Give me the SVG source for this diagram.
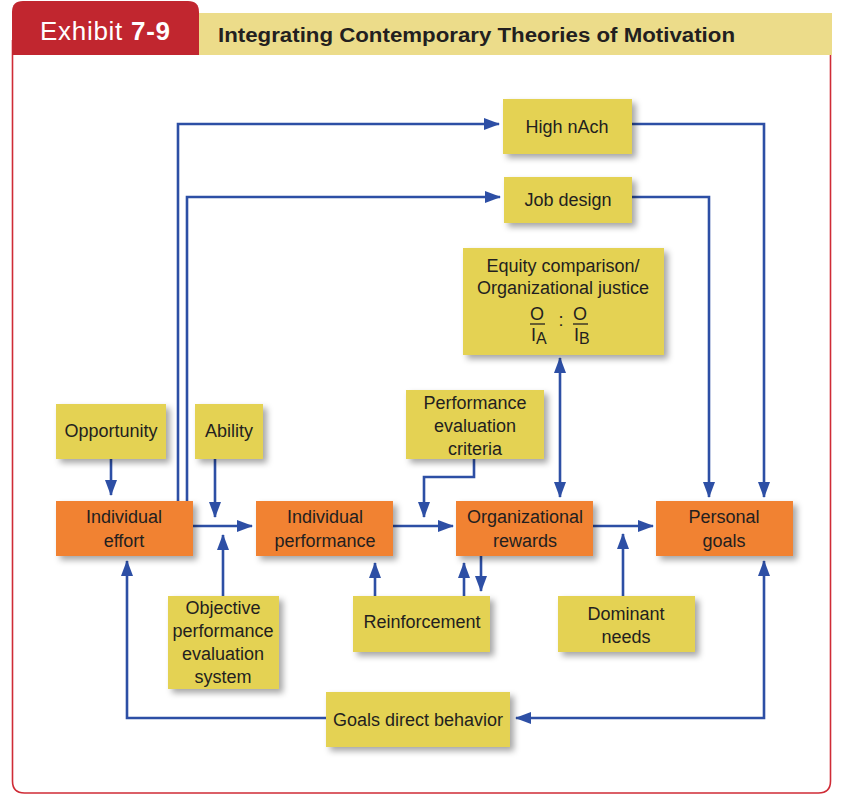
<svg xmlns="http://www.w3.org/2000/svg" width="852" height="801" viewBox="0 0 852 801">
<defs>
<style>
.frame{fill:#ffffff;stroke:#cf2b36;stroke-width:1.6}
.y{fill:#e4d252;filter:url(#sh)}
.o{fill:#f18233;filter:url(#sh)}
.t{font-family:"Liberation Sans",Arial,sans-serif;font-size:18px;fill:#231f20;text-anchor:middle}
.c{fill:none;stroke:#2d4fa5;stroke-width:2.6}
.a{marker-end:url(#ah)}
.b{marker-start:url(#ah);marker-end:url(#ah)}
</style>
<filter id="sh" x="-10%" y="-10%" width="130%" height="140%">
<feDropShadow dx="4" dy="4" stdDeviation="3" flood-color="#000" flood-opacity="0.35"/>
</filter>
<marker id="ah" markerUnits="userSpaceOnUse" markerWidth="16" markerHeight="12" viewBox="0 0 16 12" refX="15" refY="6" orient="auto-start-reverse">
<path d="M0,0 L16,6 L0,12 Z" fill="#2d4fa5"/>
</marker>
</defs>
<rect width="852" height="801" fill="#ffffff"/>
<g id="frame">
<path class="frame" d="M12.5,40 V781 Q12.5,793 24.5,793 H818.5 Q830.5,793 830.5,781 V40"/>
<rect x="199" y="13" width="633" height="42" fill="#ecdc8a"/>
<path d="M12,55 V12 Q12,1 23,1 H188 Q199,1 199,12 V55 Z" fill="#c1262f"/>
<text x="40" y="40" font-family="'Liberation Sans',Arial,sans-serif" font-size="26" fill="#ffffff" textLength="130" lengthAdjust="spacing">Exhibit <tspan font-weight="bold">7-9</tspan></text>
<text x="218" y="42" font-family="'Liberation Sans',Arial,sans-serif" font-size="20" font-weight="bold" fill="#231f20" textLength="517" lengthAdjust="spacingAndGlyphs">Integrating Contemporary Theories of Motivation</text>
</g>
<g id="connectors">
<path class="c a" d="M178,501 V124 H499"/>
<path class="c a" d="M187,501 V197 H500"/>
<path class="c a" d="M632,124 H764 V497"/>
<path class="c a" d="M632,197 H709 V497"/>
<path class="c a" d="M111,459 V495"/>
<path class="c a" d="M215,459 V517"/>
<path class="c a" d="M193,526 H252"/>
<path class="c a" d="M223,596 V535"/>
<path class="c a" d="M393,526 H453"/>
<path class="c a" d="M474,459 V477 H424 V517"/>
<path class="c b" d="M560,358 V497"/>
<path class="c a" d="M593,526 H653"/>
<path class="c a" d="M623,596 V534"/>
<path class="c a" d="M375,596 V563"/>
<path class="c a" d="M464,596 V563"/>
<path class="c a" d="M481,556 V591"/>
<path class="c b" d="M516,718 H764 V561"/>
<path class="c a" d="M326,718 H127 V561"/>
</g>
<g id="high-nach"><rect class="y" x="503" y="99" width="129" height="55"/><text class="t" x="567" y="133">High nAch</text></g>
<g id="job-design"><rect class="y" x="504" y="177" width="128" height="46"/><text class="t" x="568" y="206">Job design</text></g>
<g id="equity"><rect class="y" x="463" y="248" width="201" height="107"/>
<text class="t" x="563" y="272">Equity comparison/</text>
<text class="t" x="563" y="294">Organizational justice</text>
<text class="t" x="537" y="320">O</text>
<line x1="530" y1="324" x2="545" y2="324" stroke="#231f20" stroke-width="1.3"/>
<text class="t" x="531" y="341" style="text-anchor:start">I<tspan font-size="16" dy="3">A</tspan></text>
<text class="t" x="561" y="326">:</text>
<text class="t" x="580" y="320">O</text>
<line x1="573" y1="324" x2="588" y2="324" stroke="#231f20" stroke-width="1.3"/>
<text class="t" x="574" y="341" style="text-anchor:start">I<tspan font-size="16" dy="3">B</tspan></text>
</g>
<g id="opportunity"><rect class="y" x="56" y="404" width="110" height="55"/><text class="t" x="111" y="437">Opportunity</text></g>
<g id="ability"><rect class="y" x="195" y="404" width="68" height="55"/><text class="t" x="229" y="437">Ability</text></g>
<g id="perf-eval-criteria"><rect class="y" x="406" y="390" width="138" height="69"/>
<text class="t" x="475" y="409">Performance</text><text class="t" x="475" y="432">evaluation</text><text class="t" x="475" y="455">criteria</text></g>
<g id="individual-effort"><rect class="o" x="56" y="501" width="137" height="55"/>
<text class="t" x="124" y="523">Individual</text><text class="t" x="124" y="547">effort</text></g>
<g id="individual-performance"><rect class="o" x="256" y="501" width="137" height="55"/>
<text class="t" x="325" y="523">Individual</text><text class="t" x="325" y="547">performance</text></g>
<g id="organizational-rewards"><rect class="o" x="456" y="501" width="137" height="55"/>
<text class="t" x="525" y="523">Organizational</text><text class="t" x="525" y="547">rewards</text></g>
<g id="personal-goals"><rect class="o" x="656" y="501" width="137" height="55"/>
<text class="t" x="724" y="523">Personal</text><text class="t" x="724" y="547">goals</text></g>
<g id="objective-system"><rect class="y" x="168" y="596" width="111" height="93"/>
<text class="t" x="223" y="614">Objective</text><text class="t" x="223" y="637">performance</text><text class="t" x="223" y="660">evaluation</text><text class="t" x="223" y="683">system</text></g>
<g id="reinforcement"><rect class="y" x="353" y="596" width="137" height="56"/><text class="t" x="422" y="628">Reinforcement</text></g>
<g id="dominant-needs"><rect class="y" x="558" y="596" width="137" height="56"/>
<text class="t" x="626" y="620">Dominant</text><text class="t" x="626" y="643">needs</text></g>
<g id="goals-direct-behavior"><rect class="y" x="326" y="692" width="184" height="55"/><text class="t" x="418" y="726">Goals direct behavior</text></g>
</svg>
